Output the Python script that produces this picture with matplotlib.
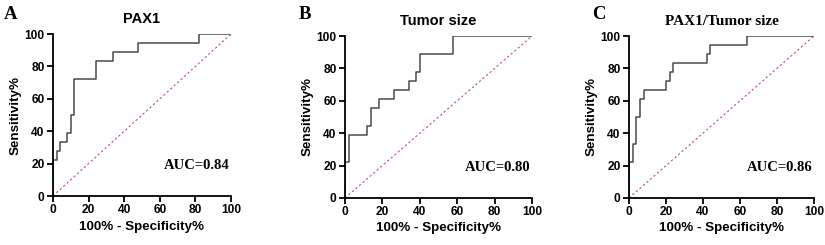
import matplotlib
matplotlib.use('Agg')
from matplotlib import pyplot as plt

# ROC step points (100% - specificity, sensitivity)
pax1_fpr = [0, 0, 2, 4, 8, 10, 12, 24, 34, 48, 82, 100]
pax1_tpr = [0, 22.2, 27.8, 33.3, 38.9, 50.0, 72.2, 83.3, 88.9, 94.4, 100, 100]

size_fpr = [0, 0, 2, 12, 14, 18, 26, 34, 38, 40, 58, 100]
size_tpr = [0, 22.2, 38.9, 44.4, 55.6, 61.1, 66.7, 72.2, 77.8, 88.9, 100, 100]

combo_fpr = [0, 0, 2, 4, 6, 8, 20, 22, 24, 42, 44, 64, 100]
combo_tpr = [0, 22.2, 33.3, 50.0, 61.1, 66.7, 72.2, 77.8, 83.3, 88.9, 94.4, 100, 100]

panels = ['A', 'B', 'C']
titles = ['PAX1', 'Tumor size', 'PAX1/Tumor size']
aucs = ['AUC=0.84', 'AUC=0.80', 'AUC=0.86']
ticks = [0, 20, 40, 60, 80, 100]

fig = plt.figure(figsize=(8.25, 2.45), dpi=100)
boxes = [
    [0.0642, 0.200, 0.2158, 0.661],
    [0.4182, 0.192, 0.2267, 0.661],
    [0.7624, 0.192, 0.2242, 0.661],
]
letter_x = [0.005, 0.362, 0.718]
data = [(pax1_fpr, pax1_tpr), (size_fpr, size_tpr), (combo_fpr, combo_tpr)]

for i, (fpr, tpr) in enumerate(data):
    ax = fig.add_axes(boxes[i])
    ax.plot([0, 100], [0, 100], ls=(0, (2, 2.2)), color='#c8505a', lw=0.8)
    ax.plot(fpr, tpr, drawstyle='steps-post', color='#4a4a4a', lw=1.1)
    ax.set_xlim(0, 100)
    ax.set_ylim(0, 100)
    ax.set_xticks(ticks)
    ax.set_yticks(ticks)
    for s in ['top', 'right']:
        ax.spines[s].set_visible(False)
    for s in ['left', 'bottom']:
        ax.spines[s].set_linewidth(1.3)
    ax.tick_params(direction='out', length=4, width=1.3, pad=2)
    for lab in ax.get_xticklabels() + ax.get_yticklabels():
        lab.set_fontfamily('Liberation Sans')
        lab.set_fontweight('bold')
        lab.set_fontsize(8.6)
    ax.set_xlabel('100% - Specificity%', fontfamily='Liberation Sans', fontweight='bold', fontsize=9.6, labelpad=3)
    ax.set_ylabel('Sensitivity%', fontfamily='Liberation Sans', fontweight='bold', fontsize=9.6, labelpad=2)
    if i == 2:
        ax.set_title(titles[i], fontfamily='Liberation Serif', fontweight='bold', fontsize=11, pad=8)
    else:
        ax.set_title(titles[i], fontfamily='Liberation Sans', fontweight='bold', fontsize=10.5, pad=8)
    ax.text(99, 19, aucs[i], ha='right', va='center', fontfamily='Liberation Serif',
            fontweight='bold', fontsize=10.5)
    fig.text(letter_x[i], 0.94, panels[i], ha='left', va='center', fontfamily='Liberation Serif',
             fontweight='bold', fontsize=13.5)

fig.savefig('out.png', dpi=100)
